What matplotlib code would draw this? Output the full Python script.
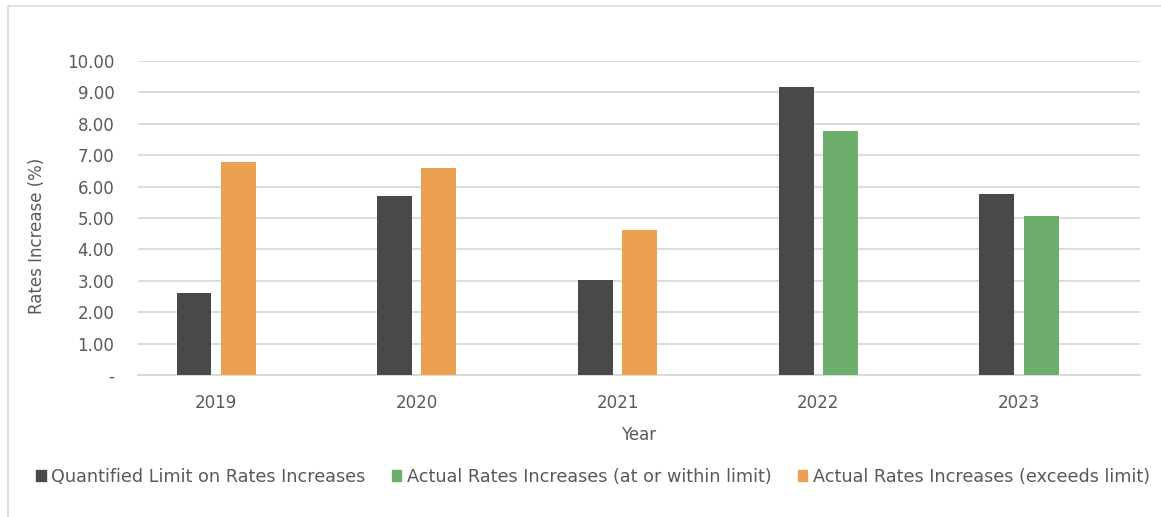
import matplotlib.pyplot as plt
from matplotlib.patches import Rectangle
import numpy as np

years = ["2019", "2020", "2021", "2022", "2023"]
limit = [2.61, 5.70, 3.03, 9.17, 5.76]
actual = [6.78, 6.59, 4.62, 7.77, 5.06]
within = [False, False, False, True, True]

dark = "#484A49"
green = "#6DAE6C"
orange = "#ECA051"
text_col = "#595959"

plt.rcParams["font.family"] = ["DejaVu Sans"]

fig = plt.figure(figsize=(11.61, 5.17), dpi=100)
ax = fig.add_axes([138 / 1161, 1 - 375 / 517, 1002 / 1161, 314 / 517])

x = np.arange(len(years))
w = 0.174
cols = [green if ok else orange for ok in within]
ax.bar(x - 0.11, limit, width=w, color=dark, zorder=3)
ax.bar(x + 0.11, actual, width=w, color=cols, zorder=3)

ax.set_xlim(-0.389, 4.603)
ax.set_ylim(0, 10)
ax.set_yticks(np.arange(0, 11, 1))
ax.set_yticklabels(["-"] + [f"{v:.2f}" for v in range(1, 11)])
ax.set_xticks(x)
ax.set_xticklabels(years)
ax.grid(axis="y", color="#d9d9d9", lw=1.3, zorder=0)
for s in ["top", "right", "left"]:
    ax.spines[s].set_visible(False)
ax.spines["bottom"].set_color("#d9d9d9")
ax.spines["bottom"].set_linewidth(1.3)
ax.tick_params(length=0, labelsize=12, labelcolor=text_col)
ax.tick_params(axis="y", pad=17)
ax.tick_params(axis="x", pad=14)
ax.set_xlabel("Year", fontsize=12, color=text_col, labelpad=10)
ax.set_ylabel("Rates Increase (%)", fontsize=12, color=text_col)
ax.yaxis.set_label_coords(-0.092, 0.443)

handles = [Rectangle((0, 0), 1, 1, color=c) for c in (dark, green, orange)]
labels = ["Quantified Limit on Rates Increases",
          "Actual Rates Increases (at or within limit)",
          "Actual Rates Increases (exceeds limit)"]
fig.legend(handles, labels, loc="center left", bbox_to_anchor=(20 / 1161, 1 - 477 / 517),
           ncol=3, frameon=False, fontsize=12.7, labelcolor=text_col,
           handlelength=0.55, handleheight=0.55, handletextpad=0.3, columnspacing=1.5)

fig.add_artist(Rectangle((8 / 1161, -0.1), 1.2, 1 - 6 / 517 + 0.1, transform=fig.transFigure,
                         fill=False, edgecolor="#d9d9d9", lw=1.2))

fig.savefig("out.png", dpi=100)
